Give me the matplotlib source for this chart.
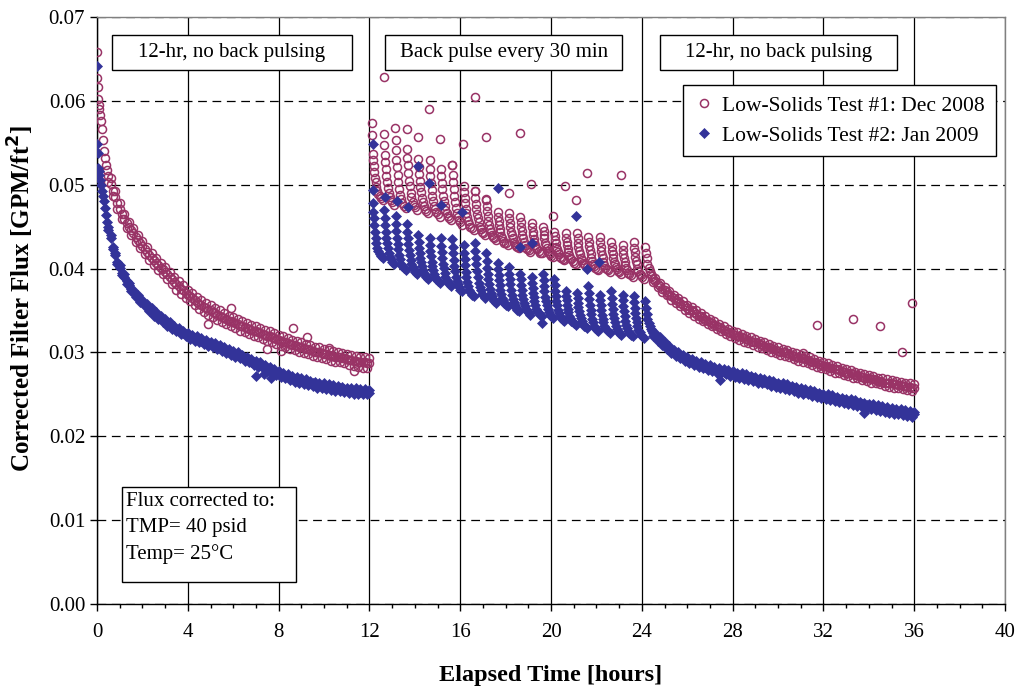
import numpy as np
import matplotlib
matplotlib.use("Agg")
import matplotlib.pyplot as plt
from matplotlib.patches import Rectangle
from matplotlib.ticker import MultipleLocator, FormatStrFormatter

plt.rcParams['font.family'] = ['Liberation Serif', 'DejaVu Serif']

# ---------------- data (flux in 1e-3 GPM/ft^2, time in hours) ----------------
SCALE = 1e-3

# Segment 1 (0-12 h, no back pulsing): band centre, plus upper / lower edge of the scatter band
seg1_early_t = [0, .02, .04, .06, .08, .10, .13, .16, .20, .25, .30, .35, .40, .45]
red_seg1_early = [65.8, 62.7, 61.7, 60.2, 59.5, 59.0, 58.3, 57.6, 56.6, 55.3, 54.0, 53.2, 52.4, 51.8]
blue_seg1_early = [64.1, 54.8, 53.8, 52.0, 51.6, 51.2, 50.6, 50.0, 49.3, 48.7, 48.0, 47.2, 46.4, 45.6]
seg1_main_start, seg1_main_step = 0.5, 0.1
red_seg1 = [51.0, 50.1, 49.3, 48.5, 47.8, 47.1, 46.5, 45.9, 45.4, 45.0,
            44.6, 44.2, 43.8, 43.4, 43.0, 42.7, 42.3, 42.0, 41.6, 41.3,
            41.0, 40.7, 40.4, 40.1, 39.9, 39.6, 39.3, 39.0, 38.7, 38.4,
            38.1, 37.9, 37.6, 37.4, 37.1, 36.9, 36.7, 36.5, 36.2, 36.0,
            35.8, 35.6, 35.4, 35.3, 35.1, 35.0, 34.8, 34.7, 34.5, 34.4,
            34.2, 34.1, 34.0, 33.8, 33.7, 33.6, 33.5, 33.4, 33.2, 33.1,
            33.0, 32.9, 32.8, 32.7, 32.6, 32.5, 32.4, 32.3, 32.2, 32.1,
            32.0, 31.9, 31.8, 31.7, 31.6, 31.5, 31.4, 31.3, 31.2, 31.1,
            31.0, 30.9, 30.9, 30.8, 30.7, 30.6, 30.5, 30.4, 30.4, 30.3,
            30.2, 30.1, 30.1, 30.0, 29.9, 29.8, 29.8, 29.7, 29.6, 29.6,
            29.5, 29.4, 29.4, 29.3, 29.3, 29.2, 29.1, 29.1, 29.0, 29.0,
            28.9, 28.9, 28.8, 28.8, 28.7, 28.7]
blue_seg1 = [44.9, 43.7, 42.6, 41.6, 40.8, 40.1, 39.5, 39.0, 38.5, 38.0,
             37.6, 37.2, 36.9, 36.6, 36.3, 36.0, 35.8, 35.5, 35.2, 35.0,
             34.7, 34.5, 34.3, 34.1, 33.9, 33.7, 33.5, 33.3, 33.1, 32.9,
             32.8, 32.6, 32.5, 32.3, 32.2, 32.0, 31.9, 31.8, 31.7, 31.6,
             31.5, 31.4, 31.3, 31.2, 31.1, 31.0, 30.9, 30.8, 30.7, 30.6,
             30.5, 30.4, 30.2, 30.1, 30.0, 29.9, 29.8, 29.7, 29.6, 29.4,
             29.3, 29.2, 29.1, 28.9, 28.8, 28.7, 28.6, 28.5, 28.4, 28.2,
             28.1, 28.0, 27.9, 27.7, 27.6, 27.5, 27.4, 27.3, 27.2, 27.1,
             27.0, 26.9, 26.8, 26.8, 26.7, 26.6, 26.5, 26.5, 26.4, 26.3,
             26.3, 26.2, 26.1, 26.1, 26.0, 26.0, 25.9, 25.9, 25.8, 25.8,
             25.7, 25.7, 25.7, 25.6, 25.6, 25.5, 25.5, 25.5, 25.4, 25.4,
             25.4, 25.3, 25.3, 25.3, 25.3, 25.2]
seg1_hi_start, seg1_lo_start, band_step = 0.6, 0.5, 0.2
red_seg1_hi = [50.8, 49.2, 47.8, 46.5, 45.6, 44.8, 44.0, 43.3, 42.6, 41.9,
               41.3, 40.7, 40.2, 39.6, 39.0, 38.5, 38.0, 37.5, 37.1, 36.6,
               36.2, 35.9, 35.6, 35.3, 35.0, 34.7, 34.4, 34.2, 34.0, 33.7,
               33.5, 33.3, 33.1, 32.9, 32.7, 32.5, 32.3, 32.1, 31.9, 31.7,
               31.5, 31.4, 31.2, 31.0, 30.9, 30.7, 30.6, 30.4, 30.3, 30.2,
               30.0, 29.9, 29.8, 29.7, 29.6, 29.5, 29.4, 29.3]
red_seg1_lo = [50.3, 48.6, 47.1, 45.9, 44.8, 44.0, 43.2, 42.4, 41.7, 41.0,
               40.4, 39.8, 39.3, 38.7, 38.1, 37.5, 37.0, 36.5, 36.1, 35.6,
               35.2, 34.8, 34.5, 34.2, 33.9, 33.6, 33.4, 33.1, 32.9, 32.6,
               32.4, 32.2, 32.0, 31.8, 31.6, 31.4, 31.2, 31.0, 30.8, 30.6,
               30.4, 30.3, 30.1, 29.9, 29.8, 29.6, 29.5, 29.3, 29.2, 29.0,
               28.9, 28.8, 28.7, 28.5, 28.4, 28.3, 28.2, 28.1]
blue_seg1_hi = [44.0, 41.9, 40.4, 39.3, 38.3, 37.5, 36.9, 36.3, 35.8, 35.3,
                34.8, 34.4, 34.0, 33.6, 33.2, 32.9, 32.6, 32.3, 32.1, 31.9,
                31.7, 31.5, 31.3, 31.1, 30.9, 30.7, 30.4, 30.2, 30.0, 29.7,
                29.5, 29.2, 29.0, 28.8, 28.5, 28.3, 28.0, 27.8, 27.6, 27.4,
                27.2, 27.1, 26.9, 26.8, 26.6, 26.5, 26.4, 26.3, 26.2, 26.1,
                26.0, 25.9, 25.8, 25.8, 25.7, 25.6, 25.6, 25.5]
blue_seg1_lo = [44.6, 42.3, 40.5, 39.2, 38.2, 37.3, 36.6, 36.0, 35.5, 34.9,
                34.4, 34.0, 33.6, 33.2, 32.8, 32.5, 32.2, 31.9, 31.6, 31.4,
                31.2, 31.0, 30.8, 30.6, 30.4, 30.2, 29.9, 29.7, 29.5, 29.3,
                29.0, 28.8, 28.5, 28.3, 28.1, 27.8, 27.6, 27.3, 27.1, 26.9,
                26.7, 26.5, 26.4, 26.2, 26.1, 26.0, 25.8, 25.7, 25.6, 25.5,
                25.4, 25.4, 25.3, 25.2, 25.1, 25.1, 25.0, 25.0]

# Segment 2 (12-24 h, back pulse every 30 min): one list per pulse cycle
cycle_first_start, cycle_period = 12.15, 0.5
cycle_offsets = [0.0, 0.02, 0.04, 0.06, 0.09, 0.12, 0.16, 0.20, 0.25, 0.30, 0.36, 0.44]
red_cycles = [
    [53.7, 52.9, 52.2, 51.5, 50.8, 50.3, 49.7, 49.3, 48.9, 48.6, 48.4, 48.2],
    [54.7, 53.6, 52.7, 51.9, 51.0, 50.3, 49.6, 49.0, 48.5, 48.2, 47.9, 47.6],
    [55.3, 54.1, 53.0, 52.1, 51.1, 50.3, 49.5, 48.8, 48.3, 47.8, 47.5, 47.2],
    [54.3, 53.2, 52.3, 51.4, 50.5, 49.8, 49.0, 48.5, 47.9, 47.6, 47.3, 47.0],
    [53.1, 52.1, 51.3, 50.5, 49.7, 49.1, 48.4, 47.9, 47.4, 47.1, 46.9, 46.6],
    [52.9, 51.9, 51.0, 50.2, 49.4, 48.7, 48.1, 47.5, 47.1, 46.7, 46.5, 46.2],
    [51.9, 51.0, 50.2, 49.5, 48.7, 48.1, 47.5, 47.0, 46.6, 46.3, 46.0, 45.8],
    [52.3, 51.2, 50.3, 49.5, 48.6, 47.9, 47.2, 46.6, 46.1, 45.8, 45.5, 45.2],
    [49.9, 49.1, 48.4, 47.8, 47.1, 46.6, 46.1, 45.7, 45.3, 45.0, 44.8, 44.6],
    [49.2, 48.4, 47.7, 47.1, 46.5, 46.0, 45.5, 45.0, 44.7, 44.4, 44.2, 44.0],
    [48.2, 47.5, 46.9, 46.3, 45.7, 45.2, 44.7, 44.4, 44.0, 43.8, 43.6, 43.4],
    [46.8, 46.2, 45.7, 45.2, 44.7, 44.3, 43.9, 43.6, 43.3, 43.1, 43.0, 42.8],
    [46.6, 46.0, 45.4, 44.9, 44.4, 44.0, 43.6, 43.2, 42.9, 42.7, 42.6, 42.4],
    [46.2, 45.6, 45.0, 44.5, 44.0, 43.6, 43.2, 42.8, 42.5, 42.3, 42.2, 42.0],
    [45.4, 44.9, 44.4, 44.0, 43.5, 43.2, 42.8, 42.5, 42.3, 42.1, 41.9, 41.8],
    [45.0, 44.5, 44.0, 43.6, 43.1, 42.8, 42.4, 42.1, 41.9, 41.7, 41.5, 41.4],
    [44.4, 43.9, 43.4, 43.0, 42.6, 42.3, 42.0, 41.7, 41.4, 41.3, 41.1, 41.0],
    [44.2, 43.7, 43.2, 42.8, 42.3, 42.0, 41.6, 41.3, 41.1, 40.9, 40.7, 40.6],
    [44.2, 43.6, 43.1, 42.6, 42.1, 41.7, 41.3, 41.0, 40.7, 40.5, 40.4, 40.2],
    [43.8, 43.2, 42.7, 42.2, 41.7, 41.3, 40.9, 40.6, 40.3, 40.1, 40.0, 39.8],
    [43.8, 43.2, 42.6, 42.1, 41.6, 41.2, 40.8, 40.4, 40.1, 39.9, 39.8, 39.6],
    [43.2, 42.6, 42.1, 41.7, 41.2, 40.8, 40.5, 40.2, 39.9, 39.7, 39.6, 39.4],
    [42.8, 42.2, 41.7, 41.3, 40.8, 40.4, 40.1, 39.8, 39.5, 39.3, 39.2, 39.0],
    [43.2, 42.5, 42.0, 41.4, 40.9, 40.5, 40.0, 39.7, 39.4, 39.2, 39.0, 38.8],
]
blue_cycles = [
    [47.8, 46.8, 46.0, 45.2, 44.4, 43.7, 43.0, 42.5, 42.1, 41.7, 41.5, 41.2],
    [47.0, 46.0, 45.2, 44.4, 43.7, 43.0, 42.4, 41.9, 41.4, 41.1, 40.8, 40.6],
    [46.3, 45.3, 44.5, 43.7, 42.9, 42.3, 41.6, 41.1, 40.6, 40.3, 40.1, 39.8],
    [45.3, 44.4, 43.6, 42.9, 42.2, 41.6, 41.0, 40.6, 40.2, 39.9, 39.6, 39.4],
    [44.0, 43.2, 42.5, 41.9, 41.3, 40.8, 40.3, 39.8, 39.5, 39.2, 39.0, 38.8],
    [43.6, 42.8, 42.1, 41.5, 40.8, 40.3, 39.8, 39.4, 39.0, 38.7, 38.5, 38.3],
    [43.6, 42.7, 42.0, 41.3, 40.6, 40.1, 39.5, 39.0, 38.6, 38.4, 38.1, 37.9],
    [43.5, 42.6, 41.8, 41.0, 40.3, 39.7, 39.0, 38.5, 38.1, 37.8, 37.5, 37.3],
    [42.8, 41.9, 41.1, 40.4, 39.6, 39.0, 38.4, 37.9, 37.5, 37.2, 36.9, 36.7],
    [43.1, 42.1, 41.3, 40.5, 39.7, 39.0, 38.3, 37.8, 37.4, 37.0, 36.8, 36.5],
    [41.8, 40.9, 40.1, 39.4, 38.7, 38.1, 37.6, 37.1, 36.7, 36.4, 36.1, 35.9],
    [40.7, 39.9, 39.2, 38.6, 38.0, 37.5, 37.0, 36.5, 36.2, 35.9, 35.7, 35.5],
    [40.2, 39.4, 38.7, 38.1, 37.4, 36.9, 36.4, 36.0, 35.6, 35.3, 35.1, 34.9],
    [39.4, 38.7, 38.0, 37.4, 36.9, 36.4, 35.9, 35.5, 35.2, 34.9, 34.7, 34.5],
    [39.0, 38.3, 37.7, 37.1, 36.6, 36.1, 35.6, 35.2, 34.9, 34.7, 34.5, 34.3],
    [39.4, 38.6, 37.9, 37.3, 36.6, 36.1, 35.6, 35.2, 34.8, 34.5, 34.3, 34.1],
    [38.7, 38.0, 37.3, 36.7, 36.1, 35.6, 35.1, 34.7, 34.4, 34.1, 33.9, 33.7],
    [37.3, 36.7, 36.2, 35.7, 35.2, 34.8, 34.4, 34.1, 33.8, 33.6, 33.5, 33.3],
    [37.1, 36.5, 35.9, 35.4, 34.9, 34.5, 34.1, 33.7, 33.4, 33.2, 33.1, 32.9],
    [37.9, 37.1, 36.4, 35.7, 35.1, 34.6, 34.0, 33.6, 33.2, 32.9, 32.7, 32.5],
    [36.9, 36.2, 35.6, 35.1, 34.5, 34.0, 33.6, 33.2, 32.9, 32.7, 32.5, 32.3],
    [37.3, 36.5, 35.8, 35.2, 34.6, 34.1, 33.6, 33.1, 32.8, 32.5, 32.3, 32.1],
    [36.9, 36.2, 35.5, 34.9, 34.3, 33.8, 33.3, 32.9, 32.6, 32.3, 32.1, 31.9],
    [36.7, 36.0, 35.3, 34.7, 34.1, 33.6, 33.1, 32.7, 32.4, 32.1, 31.9, 31.7],
]

# Segment 3 (24-36 h, no back pulsing)
seg3_early_t = [24.15, 24.18, 24.21, 24.25, 24.30, 24.35, 24.40, 24.45]
red_seg3_early = [42.6, 41.9, 41.2, 40.6, 40.1, 39.7, 39.4, 39.1]
blue_seg3_early = [36.1, 35.3, 34.6, 34.0, 33.5, 33.1, 32.8, 32.5]
seg3_main_start, seg3_main_step = 24.5, 0.1
red_seg3 = [38.8, 38.5, 38.2, 37.9, 37.6, 37.4, 37.2, 36.9, 36.7, 36.5,
            36.3, 36.1, 35.9, 35.7, 35.5, 35.3, 35.1, 35.0, 34.8, 34.6,
            34.4, 34.3, 34.1, 33.9, 33.8, 33.6, 33.5, 33.3, 33.2, 33.0,
            32.9, 32.7, 32.6, 32.4, 32.3, 32.2, 32.1, 32.0, 31.9, 31.8,
            31.7, 31.6, 31.5, 31.4, 31.3, 31.2, 31.1, 31.0, 30.9, 30.8,
            30.7, 30.6, 30.5, 30.4, 30.3, 30.2, 30.1, 30.0, 30.0, 29.9,
            29.8, 29.7, 29.6, 29.5, 29.4, 29.3, 29.3, 29.2, 29.1, 29.0,
            28.9, 28.8, 28.7, 28.6, 28.5, 28.4, 28.4, 28.3, 28.2, 28.1,
            28.0, 28.0, 27.9, 27.8, 27.7, 27.6, 27.6, 27.5, 27.4, 27.3,
            27.3, 27.2, 27.1, 27.0, 27.0, 26.9, 26.8, 26.8, 26.7, 26.6,
            26.6, 26.5, 26.4, 26.4, 26.3, 26.3, 26.2, 26.2, 26.1, 26.1,
            26.0, 26.0, 25.9, 25.9, 25.8, 25.8]
blue_seg3 = [32.3, 32.0, 31.7, 31.5, 31.2, 31.0, 30.7, 30.5, 30.2, 30.0,
             29.9, 29.7, 29.6, 29.4, 29.3, 29.1, 29.0, 28.9, 28.8, 28.7,
             28.6, 28.5, 28.4, 28.3, 28.2, 28.2, 28.1, 28.0, 27.9, 27.9,
             27.8, 27.7, 27.7, 27.6, 27.5, 27.5, 27.4, 27.3, 27.3, 27.2,
             27.1, 27.1, 27.0, 26.9, 26.9, 26.8, 26.7, 26.7, 26.6, 26.5,
             26.5, 26.4, 26.3, 26.3, 26.2, 26.1, 26.1, 26.0, 25.9, 25.9,
             25.8, 25.7, 25.7, 25.6, 25.5, 25.5, 25.4, 25.3, 25.3, 25.2,
             25.1, 25.1, 25.0, 24.9, 24.9, 24.8, 24.7, 24.7, 24.6, 24.6,
             24.5, 24.4, 24.4, 24.3, 24.3, 24.2, 24.1, 24.1, 24.0, 24.0,
             23.9, 23.8, 23.8, 23.7, 23.7, 23.6, 23.5, 23.5, 23.4, 23.4,
             23.3, 23.3, 23.2, 23.2, 23.1, 23.1, 23.0, 23.0, 22.9, 22.9,
             22.8, 22.8, 22.7, 22.7, 22.6, 22.6]
seg3_hi_start, seg3_lo_start = 24.6, 24.5
red_seg3_hi = [38.9, 38.3, 37.8, 37.3, 36.9, 36.5, 36.1, 35.7, 35.4, 35.0,
               34.7, 34.3, 34.0, 33.7, 33.4, 33.1, 32.8, 32.6, 32.4, 32.2,
               32.0, 31.8, 31.6, 31.4, 31.2, 31.0, 30.8, 30.6, 30.4, 30.3,
               30.1, 29.9, 29.7, 29.6, 29.4, 29.2, 29.0, 28.8, 28.7, 28.5,
               28.4, 28.2, 28.0, 27.9, 27.7, 27.6, 27.4, 27.3, 27.2, 27.0,
               26.9, 26.8, 26.7, 26.6, 26.5, 26.4, 26.3, 26.2]
red_seg3_lo = [38.4, 37.8, 37.2, 36.8, 36.3, 35.9, 35.5, 35.1, 34.7, 34.4,
               34.0, 33.7, 33.4, 33.1, 32.8, 32.5, 32.2, 31.9, 31.7, 31.5,
               31.3, 31.1, 30.9, 30.7, 30.5, 30.3, 30.1, 29.9, 29.7, 29.6,
               29.4, 29.2, 29.0, 28.9, 28.7, 28.5, 28.3, 28.1, 28.0, 27.8,
               27.6, 27.5, 27.3, 27.2, 27.0, 26.9, 26.7, 26.6, 26.4, 26.3,
               26.2, 26.0, 25.9, 25.8, 25.7, 25.6, 25.5, 25.4]
blue_seg3_hi = [32.3, 31.8, 31.3, 30.8, 30.3, 30.0, 29.7, 29.4, 29.2, 29.0,
                28.8, 28.6, 28.5, 28.3, 28.2, 28.0, 27.9, 27.8, 27.6, 27.5,
                27.4, 27.2, 27.1, 27.0, 26.8, 26.7, 26.6, 26.4, 26.3, 26.2,
                26.0, 25.9, 25.8, 25.6, 25.5, 25.4, 25.2, 25.1, 25.0, 24.9,
                24.7, 24.6, 24.5, 24.4, 24.3, 24.1, 24.0, 23.9, 23.8, 23.7,
                23.6, 23.5, 23.4, 23.3, 23.2, 23.1, 23.0, 22.9]
blue_seg3_lo = [32.0, 31.4, 30.9, 30.4, 29.9, 29.6, 29.3, 29.0, 28.7, 28.5,
                28.3, 28.1, 27.9, 27.8, 27.6, 27.5, 27.4, 27.2, 27.1, 27.0,
                26.8, 26.7, 26.6, 26.4, 26.3, 26.2, 26.0, 25.9, 25.8, 25.6,
                25.5, 25.4, 25.2, 25.1, 25.0, 24.8, 24.7, 24.6, 24.4, 24.3,
                24.2, 24.1, 24.0, 23.8, 23.7, 23.6, 23.5, 23.4, 23.2, 23.1,
                23.0, 22.9, 22.8, 22.7, 22.6, 22.5, 22.4, 22.3]

# Isolated points (outliers)
red_out_t = [5.9, 4.9, 8.63, 9.23, 10.2, 11.3, 7.5, 8.1,
             12.1, 12.1, 12.64, 12.64, 13.13, 13.64, 14.15, 14.64, 15.13, 15.66,
             16.13, 16.65, 16.65, 17.13, 17.13, 18.15, 18.63, 19.1, 20.1, 20.6,
             21.1, 21.6, 23.1,
             31.1, 31.7, 33.3, 34.5, 35.45, 35.9]
red_out_v = [35.3, 33.4, 32.9, 31.8, 30.5, 27.8, 30.4, 30.2,
             57.4, 55.9, 62.8, 56.1, 56.8, 56.6, 55.7, 59.0, 55.5, 52.4,
             54.9, 60.4, 49.2, 55.7, 48.3, 49.0, 56.2, 50.1, 46.3, 49.8,
             48.2, 51.4, 51.2,
             29.9, 33.3, 34.0, 33.2, 30.0, 35.9]
blue_out_t = [7.0, 7.36, 7.65,
              12.15, 12.15, 12.7, 13.2, 13.7, 14.15, 14.64, 15.17, 16.1, 17.65,
              18.65, 19.15, 19.6, 21.1, 21.6, 22.1,
              27.45, 33.8]
blue_out_v = [27.2, 27.4, 26.9,
              54.9, 49.4, 48.5, 48.1, 47.3, 52.2, 50.2, 47.6, 46.7, 49.6,
              42.6, 43.0, 33.5, 46.3, 39.9, 40.8,
              26.7, 22.8]

series_labels = ["Low-Solids Test #1: Dec 2008", "Low-Solids Test #2: Jan 2009"]
x_ticks = [0, 4, 8, 12, 16, 20, 24, 28, 32, 36, 40]
y_ticks = [0.00, 0.01, 0.02, 0.03, 0.04, 0.05, 0.06, 0.07]
phase_labels = ["12-hr, no back pulsing", "Back pulse every 30 min", "12-hr, no back pulsing"]
note_lines = ["Flux corrected to:", "TMP= 40 psid", "Temp= 25\u00b0C"]


def grid_series(start, step, vals):
    return [start + step * i for i in range(len(vals))], list(vals)


def cycles_xy(cycles):
    t, v = [], []
    for k, cyc in enumerate(cycles):
        s = cycle_first_start + cycle_period * k
        for off, val in zip(cycle_offsets, cyc):
            t.append(s + off)
            v.append(val)
    return t, v


def collect(parts):
    t, v = [], []
    for pt, pv in parts:
        t += list(pt)
        v += list(pv)
    return np.array(t), np.array(v) * SCALE


red_t, red_v = collect([
    (seg1_early_t, red_seg1_early),
    grid_series(seg1_main_start, seg1_main_step, red_seg1),
    grid_series(seg1_hi_start, band_step, red_seg1_hi),
    grid_series(seg1_lo_start, band_step, red_seg1_lo),
    cycles_xy(red_cycles),
    (seg3_early_t, red_seg3_early),
    grid_series(seg3_main_start, seg3_main_step, red_seg3),
    grid_series(seg3_hi_start, band_step, red_seg3_hi),
    grid_series(seg3_lo_start, band_step, red_seg3_lo),
    (red_out_t, red_out_v),
])
blue_t, blue_v = collect([
    (seg1_early_t, blue_seg1_early),
    grid_series(seg1_main_start, seg1_main_step, blue_seg1),
    grid_series(seg1_hi_start, band_step, blue_seg1_hi),
    grid_series(seg1_lo_start, band_step, blue_seg1_lo),
    cycles_xy(blue_cycles),
    (seg3_early_t, blue_seg3_early),
    grid_series(seg3_main_start, seg3_main_step, blue_seg3),
    grid_series(seg3_hi_start, band_step, blue_seg3_hi),
    grid_series(seg3_lo_start, band_step, blue_seg3_lo),
    (blue_out_t, blue_out_v),
])

# ---------------- figure ----------------
RED = '#993366'
BLUE = '#333399'
FS = 15

fig = plt.figure(figsize=(10.17, 6.87), dpi=100)
ax = fig.add_axes([0.0954, 0.1208, 0.8928, 0.8545])

ax.set_xlim(0, 40)
ax.set_ylim(0, 0.07)

ax.plot(red_t, red_v, linestyle='none', marker='o', markersize=5.8,
        markerfacecolor='none', markeredgecolor=RED, markeredgewidth=1.1,
        label=series_labels[0], zorder=3)
ax.plot(blue_t, blue_v, linestyle='none', marker='D', markersize=5.0,
        markerfacecolor=BLUE, markeredgecolor=BLUE, markeredgewidth=0.5,
        label=series_labels[1], zorder=4)

ax.set_xticks(x_ticks)
ax.set_yticks(y_ticks)
ax.xaxis.set_minor_locator(MultipleLocator(1))
ax.yaxis.set_major_formatter(FormatStrFormatter('%.2f'))
ax.tick_params(axis='both', which='major', direction='out', length=5, width=1,
               labelsize=FS, colors='black')
ax.tick_params(axis='x', which='major', pad=9)
ax.tick_params(axis='x', which='minor', direction='out', length=3, width=1)

ax.set_axisbelow(True)
ax.xaxis.grid(True, which='major', color='black', linewidth=0.9, linestyle='-')
ax.yaxis.grid(True, which='major', color='black', linewidth=0.9, linestyle=(0, (7, 4.5)))

for s in ['left', 'bottom']:
    ax.spines[s].set_color('black')
    ax.spines[s].set_linewidth(1.0)
for s in ['top', 'right']:
    ax.spines[s].set_color('#808080')
    ax.spines[s].set_linewidth(1.0)

ax.set_xlabel('Elapsed Time [hours]', fontsize=17.5, fontweight='bold', labelpad=16)
ax.set_ylabel('Corrected Filter Flux [GPM/ft$^\\mathbf{2}$]', fontsize=18,
              fontweight='bold')
ax.yaxis.set_label_coords(-0.067, 0.52)

# phase boxes (positions in data coordinates)
phase_boxes = [(0.66, 11.23), (12.69, 23.13), (24.80, 35.24)]
for (x0, x1), lab in zip(phase_boxes, phase_labels):
    ax.add_patch(Rectangle((x0, 0.06368), x1 - x0, 0.00417, facecolor='white',
                           edgecolor='black', linewidth=1.0, zorder=5))
    ax.text((x0 + x1) / 2, 0.06575, lab, ha='center', va='center',
            fontsize=FS, zorder=6)

# note box
ax.add_patch(Rectangle((1.10, 0.00262), 7.67, 0.01133, facecolor='white',
                       edgecolor='black', linewidth=1.0, zorder=5))
for i, line in enumerate(note_lines):
    ax.text(1.28, 0.01225 - i * 0.00315, line, ha='left', va='center',
            fontsize=FS, zorder=6)

leg = ax.legend(loc='upper right', bbox_to_anchor=(0.990, 0.884), fontsize=15.5,
                frameon=True, fancybox=False, framealpha=1, edgecolor='black',
                borderaxespad=0, handletextpad=0.35, handlelength=1.0,
                borderpad=0.5, labelspacing=0.45)
leg.get_frame().set_linewidth(1.0)
leg.set_zorder(7)

fig.savefig('out.png', dpi=100)
